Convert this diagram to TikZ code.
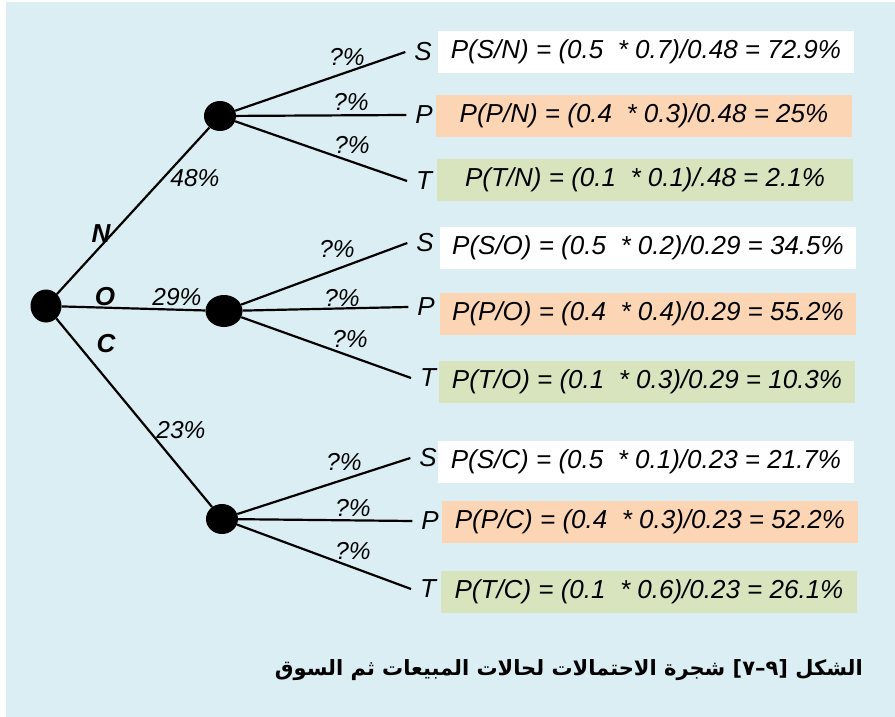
\documentclass[tikz,border=0pt]{standalone}
\usepackage{fontspec}
\setmainfont{Liberation Sans}
\newfontfamily\arabicfont[Script=Arabic]{DejaVu Sans}
\TeXXeTstate=1
\usetikzlibrary{shapes.geometric}
\definecolor{tbg}{HTML}{DAEEF3}
\definecolor{tpeach}{HTML}{FCD5B5}
\definecolor{tolive}{HTML}{D7E4BD}
\tikzset{
  chance/.style  = {fill=black, ellipse, inner sep=0pt,
                    minimum width=32pt, minimum height=30pt},
  branch/.style  = {line width=2.2pt},
  outcome/.style = {font=\fontsize{26}{28}\selectfont\itshape,
                    inner sep=1pt, outer sep=8pt},
  prob/.style    = {font=\fontsize{24.5}{26}\selectfont\itshape, inner sep=0pt},
  state/.style   = {font=\fontsize{26}{28}\selectfont\bfseries\itshape, inner sep=0pt},
  resbox/.style  = {minimum width=416pt, minimum height=42pt, inner sep=0pt,
                    font=\fontsize{26}{28}\selectfont\itshape},
}

\begin{document}
\begin{tikzpicture}[x=1pt,y=-1pt]
\useasboundingbox (0,0) rectangle (895,717);
\fill[tbg] (6,2) rectangle (895,717);
% chance points
\node[chance, minimum width=31pt, minimum height=33pt] (root) at (46,306) {};
\node[chance] (sN) at (220,116) {};
\node[chance, minimum width=37pt, minimum height=32pt] (sO) at (224,311) {};
\node[chance] (sC) at (222,519) {};
\draw[branch] (root) -- (sN);
\draw[branch] (root) -- (sO);
\draw[branch] (root) -- (sC);
\node[state] (lN) at (101,234) {N};
\node[state] (lO) at (105,297) {O};
\node[state] (lC) at (106,344) {C};
\node[prob] (pN) at (195,178) {48\%};
\node[prob] (pO) at (177,297) {29\%};
\node[prob] (pC) at (181,430) {23\%};
% outcomes
\node[outcome] (NS) at (423,52)  {S};
\node[outcome] (NP) at (424,115) {P};
\node[outcome] (NT) at (424,181) {T};
\node[outcome] (OS) at (425,243) {S};
\node[outcome] (OP) at (426,307) {P};
\node[outcome] (OT) at (428,378) {T};
\node[outcome] (CS) at (428,458) {S};
\node[outcome] (CP) at (430,521) {P};
\node[outcome] (CT) at (428,589) {T};
\foreach \s in {N,O,C}
  \foreach \o in {S,P,T}
    \draw[branch] (s\s) -- (\s\o.west);
\foreach \s/\x/\y in {NS/347/57, NP/351/102, NT/352/145,
                      OS/337/249, OP/342/298, OT/350/339,
                      CS/344/462, CP/353/508, CT/353/551}
  \node[prob] (q\s) at (\x,\y) {?\%};
% posterior boxes
\node[resbox, fill=white]  (bNS) at (646,52)  {P(S/N) = (0.5 \ * 0.7)/0.48 = 72.9\%};
\node[resbox, fill=tpeach] (bNP) at (644,116) {P(P/N) = (0.4 \ * 0.3)/0.48 = 25\%};
\node[resbox, fill=tolive] (bNT) at (645,180) {P(T/N) = (0.1 \ * 0.1)/.48 = 2.1\%};
\node[resbox, fill=white]  (bOS) at (648,248) {P(S/O) = (0.5 \ * 0.2)/0.29 = 34.5\%};
\node[resbox, fill=tpeach] (bOP) at (648,314) {P(P/O) = (0.4 \ * 0.4)/0.29 = 55.2\%};
\node[resbox, fill=tolive] (bOT) at (647,382) {P(T/O) = (0.1 \ * 0.3)/0.29 = 10.3\%};
\node[resbox, fill=white]  (bCS) at (646,462) {P(S/C) = (0.5 \ * 0.1)/0.23 = 21.7\%};
\node[resbox, fill=tpeach] (bCP) at (650,522) {P(P/C) = (0.4 \ * 0.3)/0.23 = 52.2\%};
\node[resbox, fill=tolive] (bCT) at (649,592) {P(T/C) = (0.1 \ * 0.6)/0.23 = 26.1\%};
% caption
\node[anchor=east, inner sep=0pt, font=\arabicfont\fontsize{21}{25}\selectfont\bfseries] (cap) at (863,670)
  {\beginR الشكل [٩–٧] شجرة الاحتمالات لحالات المبيعات ثم السوق\endR};
\end{tikzpicture}
\end{document}
